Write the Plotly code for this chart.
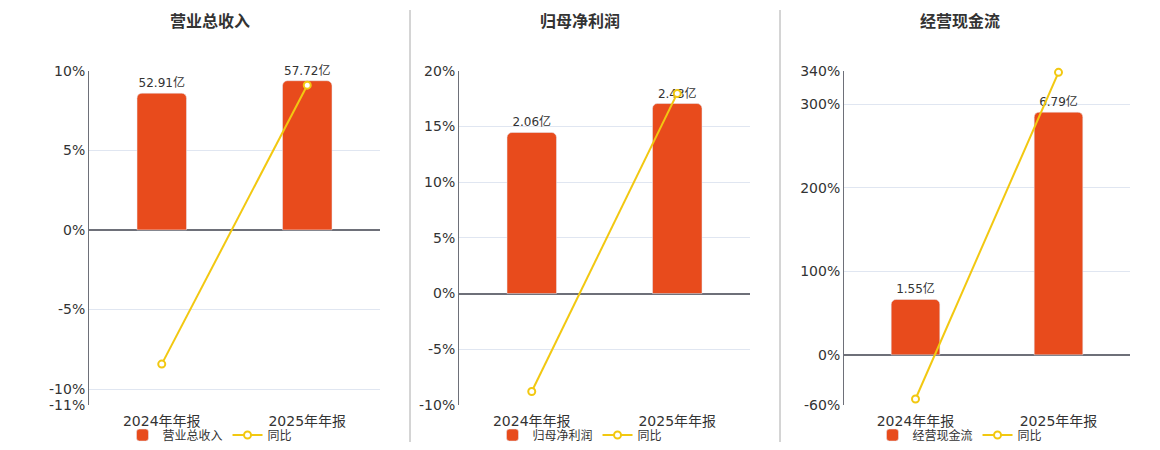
import plotly.graph_objects as go

# the page body keeps an 8px margin, so the figure is drawn 16px smaller
PAGE_W, PAGE_H = 1160, 450
OFF = 8
W, H = PAGE_W - 2 * OFF, PAGE_H - 2 * OFF

categories = ["2024年年报", "2025年年报"]

titles = ["营业总收入", "归母净利润", "经营现金流"]

# bar values, in 亿
revenue = [52.91, 57.72]
net_profit = [2.06, 2.43]
cash_flow = [1.55, 6.79]

# year-over-year growth, in %
revenue_yoy = [-8.43, 9.09]
net_profit_yoy = [-8.79, 17.96]
cash_flow_yoy = [-52.8, 338.06]

# left axis ticks (%)
revenue_ticks = [-11, -10, -5, 0, 5, 10]
net_profit_ticks = [-10, -5, 0, 5, 10, 15, 20]
cash_flow_ticks = [-60, 0, 100, 200, 300, 340]

bars = [revenue, net_profit, cash_flow]
yoys = [revenue_yoy, net_profit_yoy, cash_flow_yoy]
ticks = [revenue_ticks, net_profit_ticks, cash_flow_ticks]
bar_max = [61.6, 2.85, 7.95]  # hidden bar axis top

BAR_COLOR = "#E84B1C"
LINE_COLOR = "#F2C811"
TEXT = "#333333"
AXIS = "#6E7079"
GRID = "#E0E6F1"
FONT = "DejaVu Sans, Noto Sans CJK SC, sans-serif"


def px(x):
    # page pixel -> paper fraction (x)
    return (x - OFF) / W


def py(y):
    # page pixel -> paper fraction (y)
    return 1 - (y - OFF) / H


# plot areas in page pixels (left, right) and panel centres
plot_x = [(89, 380), (459, 750), (844, 1130)]
centres = [210, 580, 960]
y_dom = [py(405), py(70.7)]

fig = go.Figure()
layout = {}

for i in range(3):
    n = i + 1
    xa = "x" if n == 1 else f"x{n}"
    yb = "y" if n == 1 else f"y{2 * n - 1}"
    yp = f"y{2 * n}"
    leg = "legend" if n == 1 else f"legend{n}"

    fig.add_trace(go.Bar(
        x=categories, y=bars[i], name=titles[i],
        xaxis=xa, yaxis=yb, legend=leg,
        marker=dict(color=BAR_COLOR, cornerradius=5),
        width=0.34,
        text=[f"{v:.2f}亿" for v in bars[i]],
        textposition="outside", cliponaxis=False,
        textfont=dict(size=12, color=TEXT),
    ))
    fig.add_trace(go.Scatter(
        x=categories, y=yoys[i], name="同比",
        xaxis=xa, yaxis=yp, legend=leg,
        mode="lines+markers", cliponaxis=False,
        line=dict(color=LINE_COLOR, width=2),
        marker=dict(symbol="circle", size=7, color="white",
                    line=dict(color=LINE_COLOR, width=2)),
    ))

    lo, hi = min(ticks[i]), max(ticks[i])
    xkey = "xaxis" if n == 1 else f"xaxis{n}"
    ybkey = "yaxis" if n == 1 else f"yaxis{2 * n - 1}"
    ypkey = f"yaxis{2 * n}"

    layout[xkey] = dict(
        domain=[px(plot_x[i][0]), px(plot_x[i][1])], anchor=yb,
        type="category", showline=False, showgrid=False, ticks="",
        tickfont=dict(size=14, color=TEXT), ticklabelstandoff=6,
    )
    layout[ybkey] = dict(
        domain=y_dom, anchor=xa, range=[bar_max[i] * lo / hi, bar_max[i]],
        showgrid=False, zeroline=False, showticklabels=False, showline=False,
    )
    layout[ypkey] = dict(
        domain=y_dom, anchor=xa, overlaying=yb, side="left",
        range=[lo, hi], tickvals=ticks[i],
        ticktext=[f"{t}%" for t in ticks[i]],
        tickfont=dict(size=14, color=TEXT),
        showline=True, linecolor=AXIS, linewidth=1,
        showgrid=True, gridcolor=GRID, gridwidth=1,
        zeroline=True, zerolinecolor=AXIS, zerolinewidth=2,
        ticks="",
    )
    legkey = "legend" if n == 1 else f"legend{n}"
    layout[legkey] = dict(
        orientation="h", x=px(centres[i]), y=py(435),
        xanchor="center", yanchor="middle",
        font=dict(size=12, color=TEXT), bgcolor="rgba(0,0,0,0)",
        itemwidth=30, tracegroupgap=0,
    )

annotations = [
    dict(text=f"<b>{t}</b>", x=px(c), y=py(22), xref="paper", yref="paper",
         xanchor="center", yanchor="middle",
         showarrow=False, font=dict(size=16, color=TEXT))
    for t, c in zip(titles, centres)
]

shapes = [
    dict(type="line", xref="paper", yref="paper", x0=px(x), x1=px(x),
         y0=py(443), y1=py(10), line=dict(color="#AAAAAA", width=1))
    for x in (410, 780)
]

fig.update_layout(
    width=W, height=H,
    margin=dict(l=0, r=0, t=0, b=0, autoexpand=False),
    paper_bgcolor="white", plot_bgcolor="white",
    font=dict(family=FONT, color=TEXT),
    barcornerradius=5,
    annotations=annotations, shapes=shapes,
    hovermode=False,
    **layout,
)

fig.write_html("out.html")
